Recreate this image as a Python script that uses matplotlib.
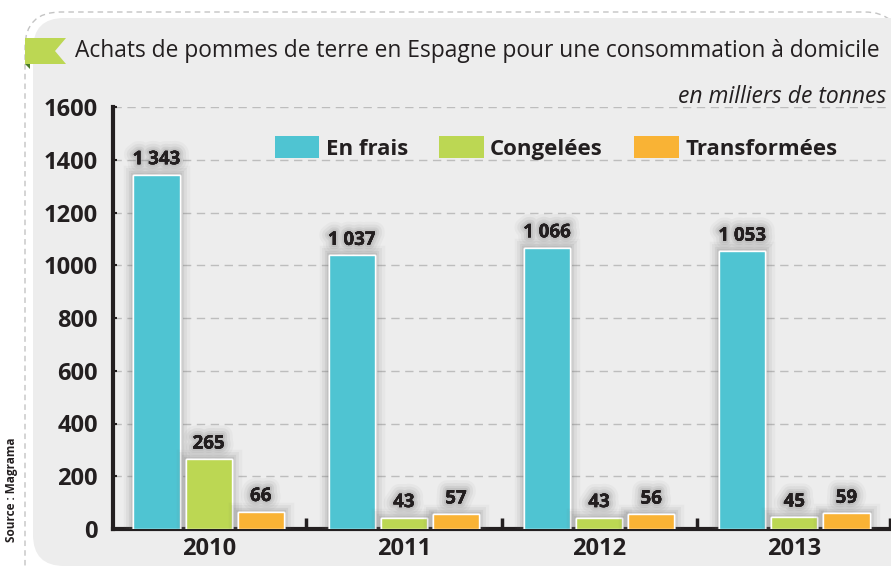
import matplotlib
matplotlib.use("Agg")
import matplotlib.pyplot as plt
from matplotlib.patches import FancyBboxPatch, Polygon
import matplotlib.patheffects as pe
import numpy as np

years = ["2010", "2011", "2012", "2013"]
en_frais = [1343, 1037, 1066, 1053]
congelees = [265, 43, 43, 45]
transformees = [66, 57, 56, 59]
series_names = ["En frais", "Congelées", "Transformées"]
colors = ["#4fc4d2", "#bcd753", "#f9b335"]
yticks = [0, 200, 400, 600, 800, 1000, 1200, 1400, 1600]

plt.rcParams['font.family'] = ['Open Sans', 'DejaVu Sans']

W, H = 891, 569
fig = plt.figure(figsize=(W/100, H/100), dpi=100)
fig.patch.set_facecolor("white")

def fx(x): return x / W
def fy(y): return 1 - y / H

# outer dashed border
outer = FancyBboxPatch((fx(25), fy(600)), fx(900-25), fy(12) - fy(600),
                       boxstyle="round,pad=0,rounding_size=0.04",
                       transform=fig.transFigure, facecolor="white",
                       edgecolor="#c4c4c4", linestyle=(0, (4, 3)), linewidth=1.0,
                       mutation_aspect=W/H, zorder=-3)
fig.patches.append(outer)
panel = FancyBboxPatch((fx(33), fy(566)), fx(920-33), fy(18) - fy(566),
                       boxstyle="round,pad=0,rounding_size=0.035",
                       transform=fig.transFigure, facecolor="#ededed",
                       edgecolor="none", mutation_aspect=W/H, zorder=-2)
fig.patches.append(panel)

# green flag
flag = Polygon([(fx(25), fy(38)), (fx(66), fy(38)), (fx(55), fy(51)),
                (fx(66), fy(64)), (fx(25), fy(64))], closed=True,
               transform=fig.transFigure, facecolor="#bcd753", edgecolor="none", zorder=-1)
fig.patches.append(flag)
tri = Polygon([(fx(25), fy(64)), (fx(30), fy(64)), (fx(30), fy(69))], closed=True,
              transform=fig.transFigure, facecolor="#4a7a2a", edgecolor="none", zorder=-1)
fig.patches.append(tri)

fig.text(fx(75), fy(51), "Achats de pommes de terre en Espagne pour une consommation à domicile",
         fontsize=16.4, color="#231f20", va="center", ha="left")
fig.text(fx(886), fy(97), "en milliers de tonnes", fontsize=16.5, style="italic",
         color="#231f20", va="center", ha="right")
fig.text(fx(12), fy(490), "Source : Magrama", fontsize=8.5, fontweight="bold",
         rotation=90, color="#231f20", va="center", ha="center")

glow = [pe.withStroke(linewidth=14, foreground="#666666", alpha=0.05),
        pe.withStroke(linewidth=10, foreground="#666666", alpha=0.07),
        pe.withStroke(linewidth=6, foreground="#666666", alpha=0.10),
        pe.withStroke(linewidth=3, foreground="#666666", alpha=0.12),
        pe.Normal()]

ax = fig.add_axes([fx(113), fy(529), fx(890) - fx(113), fy(107) - fy(529)])
ax.set_facecolor("none")
x = np.arange(len(years))
bw = 0.236
off = 0.267
for i, (vals, c) in enumerate(zip([en_frais, congelees, transformees], colors)):
    bars = ax.bar(x + (i - 1) * off, vals, width=bw, color=c, edgecolor="white",
                  linewidth=1.0, label=series_names[i], zorder=3)
    for b, v in zip(bars, vals):
        b.set_path_effects(glow)
        s = f"{v:,}".replace(",", " ")
        t = ax.annotate(s, (b.get_x() + b.get_width() / 2, v), xytext=(0, 4),
                        textcoords="offset points", ha="center", va="bottom",
                        fontsize=13.5, fontweight="bold", color="#231f20", zorder=5)
        t.set_path_effects(glow)

ax.set_ylim(0, 1600)
ax.set_xlim(-0.49, 3.49)
ax.set_yticks(yticks)
ax.set_yticklabels([str(v) for v in yticks], fontsize=17, fontweight="bold", color="#231f20")
ax.set_xticks(x)
ax.set_xticklabels(years, fontsize=17, fontweight="bold", color="#231f20")
ax.tick_params(axis="x", length=0, pad=6)
ax.tick_params(axis="y", direction="in", length=3, width=1.5, color="#231f20", pad=11)
ax.set_xticks([0.5, 1.5, 2.5, 3.49], minor=True)
ax.tick_params(axis="x", which="minor", direction="in", length=8, width=2.5, color="#231f20")
ax.yaxis.grid(True, linestyle=(0, (6, 4)), color="#bdbdbd", linewidth=1.0, zorder=0)
ax.set_axisbelow(True)
for s in ["top", "right"]:
    ax.spines[s].set_visible(False)
ax.spines["left"].set_linewidth(3)
ax.spines["bottom"].set_linewidth(3)
ax.spines["left"].set_color("#231f20")
ax.spines["bottom"].set_color("#231f20")

leg = ax.legend(loc="center", ncol=3, frameon=False, handlelength=2.0, handleheight=1.1,
                columnspacing=1.4, handletextpad=0.3, prop={"size": 16, "weight": "bold"})
leg.set_bbox_to_anchor((fx(556), fy(148)), transform=fig.transFigure)
for h in leg.legend_handles:
    h.set_edgecolor("none")
    h.set_path_effects([pe.Normal()])
for t in leg.get_texts():
    t.set_color("#231f20")

fig.savefig("out.png", dpi=100)
